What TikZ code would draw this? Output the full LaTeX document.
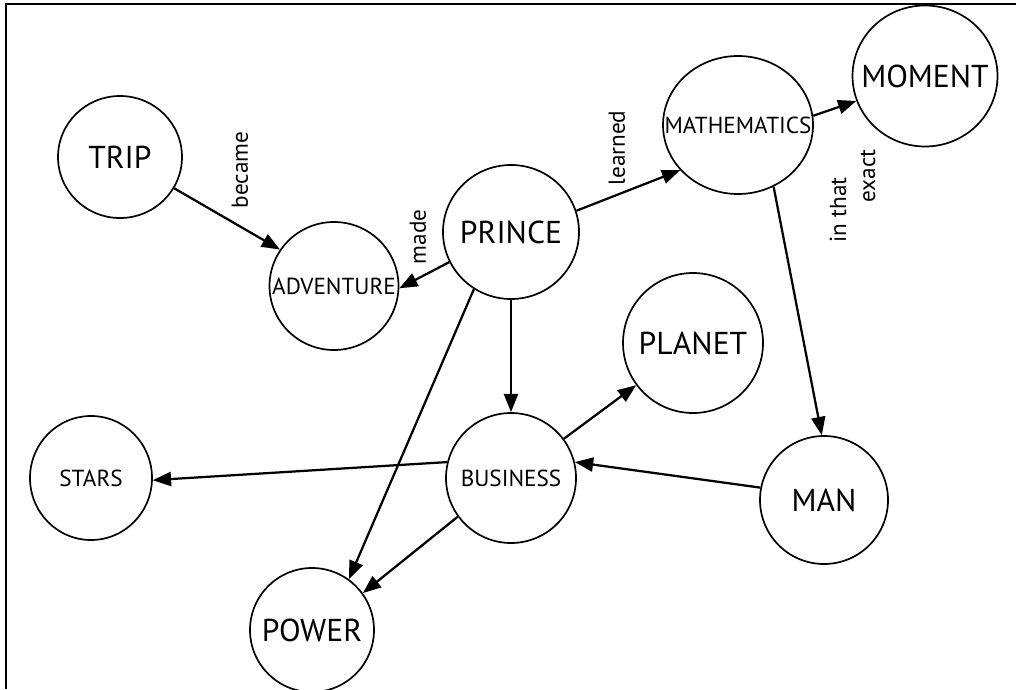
\documentclass[tikz,border=0pt]{standalone}
\usepackage{fontspec}
\setmainfont{PT Sans}
\usetikzlibrary{shapes.geometric,arrows.meta}
\newdimen\pxu \pxu=0.025cm
\begin{document}
\begin{tikzpicture}[x=0.025cm,y=-0.025cm,
  concept/.style n args={2}{ellipse, draw, line width=1.2pt, inner sep=0pt,
    minimum width=#1*\pxu, minimum height=#2*\pxu},
  big/.style={font=\fontsize{22.5}{26}\selectfont, inner sep=0pt},
  small/.style={font=\fontsize{16.5}{20}\selectfont, inner sep=0pt},
  link/.style={line width=1.6pt, -{Triangle[length=13pt,width=10pt]}},
  lbl/.style={font=\fontsize{16.5}{20}\selectfont, rotate=90, inner sep=0pt}]
\useasboundingbox (0,0) rectangle (1016,689);
% frame
\draw[line width=2pt] (6,689) -- (6,4) -- (1016,4);

% concepts
\node[concept={124}{122}, label={[big]center:TRIP}] (trip) at (120,157) {};
\node[concept={129}{128}, label={[small]center:ADVENTURE}] (adventure) at (334,286) {};
\node[concept={136}{134}, label={[big]center:PRINCE}] (prince) at (511,232) {};
\node[concept={150}{138}, label={[small]center:MATHEMATICS}] (math) at (738,125) {};
\node[concept={145}{141}, label={[big]center:MOMENT}] (moment) at (925,76) {};
\node[concept={140}{140}, label={[big]center:PLANET}] (planet) at (693,343) {};
\node[concept={122}{124}, label={[small]center:STARS}] (stars) at (91,478) {};
\node[concept={130}{130}, label={[small]center:BUSINESS}] (business) at (511,478) {};
\node[concept={128}{128}, label={[big]center:MAN}] (man) at (824,500) {};
\node[concept={124}{124}, label={[big]center:POWER}] (power) at (312,630) {};

% links
\draw[link] (trip.-30) -- (adventure.146);
\draw[link] (prince.206) -- (adventure.-2);
\draw[link] (prince.18) -- (math.218);
\draw[link] (math.7) -- (moment.200);
\draw[link] (math.-60) -- (man.92);
\draw[link] (prince.south) -- (business.north);
\draw[link] (prince.237) -- (power.54);
\draw[link] (business) -- (planet);
\draw[link] (business.166) -- (stars.-2);
\draw[link] (business.216) -- (power.36);
\draw[link] (man.169) -- (business.14);

% link labels
\node[lbl] (l-became) at (240,170) {became};
\node[lbl] (l-made) at (418,237) {made};
\node[lbl] (l-learned) at (617,148) {learned};
\node[lbl] (l-inthat) at (838,210) {in that};
\node[lbl] (l-exact) at (868,176) {exact};
\end{tikzpicture}
\end{document}
